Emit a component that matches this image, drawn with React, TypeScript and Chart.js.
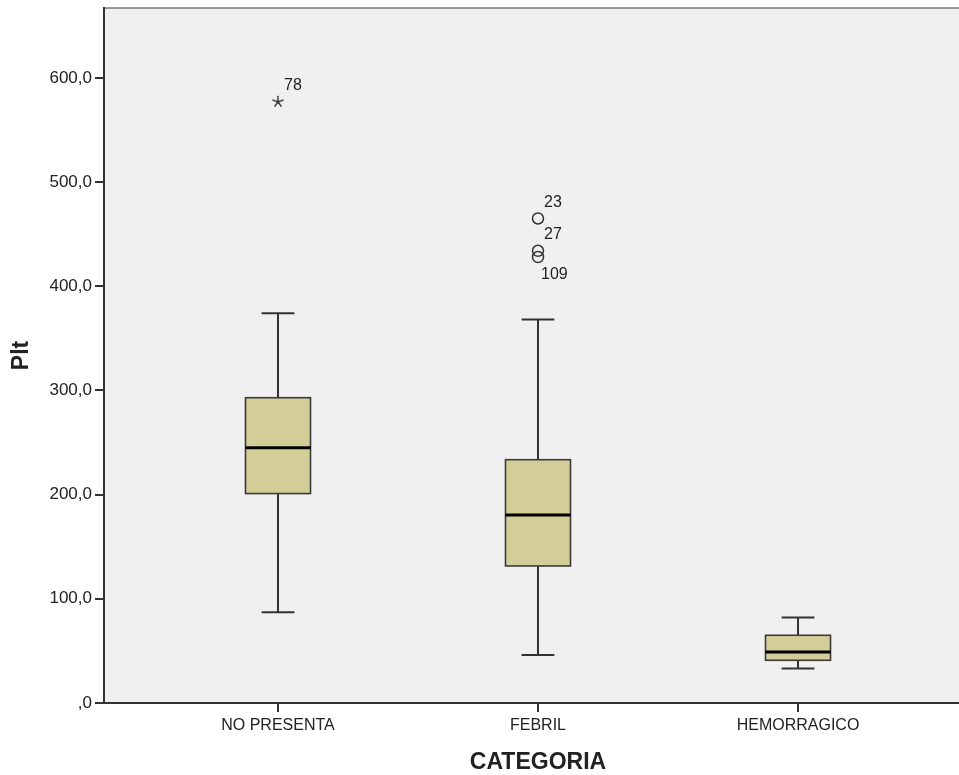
import React, { useEffect, useRef } from "react";
import { Chart, registerables } from "chart.js";

Chart.register(...registerables);

const categories = ["NO PRESENTA", "FEBRIL", "HEMORRAGICO"];
const whiskerLow = [87, 46, 33];
const q1 = [201, 131.5, 41];
const median = [245, 180.5, 49];
const q3 = [293, 233.5, 65];
const whiskerHigh = [374, 368, 82];

// outliers: category index (1-based), value, case label
const extremeCat = [1];
const extremeVal = [577];
const extremeLab = ["78"];
const outlierCat = [2, 2, 2];
const outlierVal = [465, 434, 428];
const outlierLab = ["23", "27", "109"];
const outlierLabelSide = ["above", "above", "below"];
const extremeLabelSide = ["above"];

const yTicks = [0, 100, 200, 300, 400, 500, 600];
const xTitle = "CATEGORIA";
const yTitle = "Plt";

const FONT = "'Liberation Sans', Arial, sans-serif";
const DARK = "#333333";

function makeStar(): HTMLCanvasElement {
  const c = document.createElement("canvas");
  c.width = 14;
  c.height = 14;
  const g = c.getContext("2d")!;
  g.strokeStyle = DARK;
  g.lineWidth = 1.4;
  g.beginPath();
  for (let i = 0; i < 5; i++) {
    const a = -Math.PI / 2 + (i * 2 * Math.PI) / 5;
    g.moveTo(7, 7);
    g.lineTo(7 + 6 * Math.cos(a), 7 + 6 * Math.sin(a));
  }
  g.stroke();
  return c;
}

const zeroPad = (s: any) => {
  s.paddingTop = 0;
  s.paddingBottom = 0;
  s.paddingLeft = 0;
  s.paddingRight = 0;
};

const boxPlugin = {
  id: "boxPlugin",
  beforeDraw(chart: any) {
    const { ctx, chartArea } = chart;
    ctx.save();
    ctx.fillStyle = "#F0F0F0";
    ctx.fillRect(chartArea.left, chartArea.top, chartArea.right - chartArea.left, chartArea.bottom - chartArea.top);
    ctx.strokeStyle = "#777777";
    ctx.lineWidth = 1.5;
    ctx.beginPath();
    ctx.moveTo(chartArea.left, chartArea.top);
    ctx.lineTo(chartArea.right, chartArea.top);
    ctx.stroke();
    ctx.restore();
  },
  beforeDatasetsDraw(chart: any) {
    const { ctx } = chart;
    const xs = chart.scales.x;
    const ys = chart.scales.y;
    const boxHalf = 0.125;
    const capHalf = 0.063;
    ctx.save();
    categories.forEach((_, i) => {
      const cx = i + 1;
      const xc = xs.getPixelForValue(cx);
      const xl = xs.getPixelForValue(cx - boxHalf);
      const xr = xs.getPixelForValue(cx + boxHalf);
      const cl = xs.getPixelForValue(cx - capHalf);
      const cr = xs.getPixelForValue(cx + capHalf);
      const yLo = ys.getPixelForValue(whiskerLow[i]);
      const yQ1 = ys.getPixelForValue(q1[i]);
      const yMed = ys.getPixelForValue(median[i]);
      const yQ3 = ys.getPixelForValue(q3[i]);
      const yHi = ys.getPixelForValue(whiskerHigh[i]);
      ctx.strokeStyle = DARK;
      ctx.lineWidth = 2;
      ctx.beginPath();
      ctx.moveTo(xc, yQ3);
      ctx.lineTo(xc, yHi);
      ctx.moveTo(cl, yHi);
      ctx.lineTo(cr, yHi);
      ctx.moveTo(xc, yQ1);
      ctx.lineTo(xc, yLo);
      ctx.moveTo(cl, yLo);
      ctx.lineTo(cr, yLo);
      ctx.stroke();
      ctx.fillStyle = "#D3CE97";
      ctx.fillRect(xl, yQ3, xr - xl, yQ1 - yQ3);
      ctx.strokeStyle = "#3a3a3a";
      ctx.lineWidth = 1.6;
      ctx.strokeRect(xl, yQ3, xr - xl, yQ1 - yQ3);
      ctx.strokeStyle = "#000000";
      ctx.lineWidth = 3;
      ctx.beginPath();
      ctx.moveTo(xl, yMed);
      ctx.lineTo(xr, yMed);
      ctx.stroke();
    });
    ctx.restore();
  },
  afterDatasetsDraw(chart: any) {
    const { ctx } = chart;
    const xs = chart.scales.x;
    const ys = chart.scales.y;
    ctx.save();
    ctx.fillStyle = "#222222";
    ctx.font = `16px ${FONT}`;
    ctx.textAlign = "left";
    ctx.textBaseline = "middle";
    const drawLab = (c: number, v: number, lab: string, side: string) => {
      const px = xs.getPixelForValue(c);
      const py = ys.getPixelForValue(v);
      if (side === "above") ctx.fillText(lab, px + 6, py - 16);
      else ctx.fillText(lab, px + 3, py + 18);
    };
    extremeCat.forEach((c, i) => drawLab(c, extremeVal[i], extremeLab[i], extremeLabelSide[i]));
    outlierCat.forEach((c, i) => drawLab(c, outlierVal[i], outlierLab[i], outlierLabelSide[i]));
    ctx.restore();
  },
  afterDraw(chart: any) {
    const { ctx } = chart;
    const xs = chart.scales.x;
    const ys = chart.scales.y;
    ctx.save();
    ctx.fillStyle = "#222222";
    ctx.font = `bold 23px ${FONT}`;
    ctx.textAlign = "center";
    ctx.textBaseline = "middle";
    ctx.fillText(xTitle, xs.getPixelForValue(2), 763);
    ctx.translate(22, (ys.top + ys.bottom) / 2);
    ctx.rotate(-Math.PI / 2);
    ctx.fillText(yTitle, 0, 0);
    ctx.restore();
  },
};

export default function App() {
  const ref = useRef<HTMLCanvasElement>(null);
  useEffect(() => {
    if (!ref.current) return;
    const star = makeStar();
    const chart = new Chart(ref.current, {
      type: "scatter",
      data: {
        datasets: [
          {
            data: outlierCat.map((c, i) => ({ x: c, y: outlierVal[i] })),
            pointStyle: "circle",
            pointRadius: 5.5,
            pointBorderWidth: 1.5,
            pointBorderColor: DARK,
            pointBackgroundColor: "rgba(0,0,0,0)",
          },
          {
            data: extremeCat.map((c, i) => ({ x: c, y: extremeVal[i] })),
            pointStyle: star,
            pointRadius: 7,
          },
        ],
      },
      options: {
        animation: false,
        responsive: false,
        layout: { autoPadding: false, padding: { top: 8, right: 0, left: 0, bottom: 0 } },
        plugins: { legend: { display: false }, tooltip: { enabled: false } },
        scales: {
          x: {
            type: "linear",
            min: 0.3308,
            max: 3.6192,
            afterBuildTicks: (s: any) => {
              s.ticks = categories.map((_, i) => ({ value: i + 1 }));
            },
            afterFit: (s: any) => {
              s.height = 72;
              zeroPad(s);
            },
            grid: { display: true, drawOnChartArea: false, drawTicks: true, tickLength: 9, color: DARK, lineWidth: 2 },
            border: { display: true, color: DARK, width: 2 },
            ticks: {
              callback: (v: any) => categories[Number(v) - 1] ?? "",
              font: { family: FONT, size: 16 },
              color: "#222222",
              padding: 4,
              maxRotation: 0,
              autoSkip: false,
            },
          },
          y: {
            min: 0,
            max: 667,
            afterBuildTicks: (s: any) => {
              s.ticks = yTicks.map((v) => ({ value: v }));
            },
            afterFit: (s: any) => {
              s.width = 104;
              zeroPad(s);
            },
            grid: { display: true, drawOnChartArea: false, drawTicks: true, tickLength: 9, color: DARK, lineWidth: 2 },
            border: { display: true, color: DARK, width: 2 },
            ticks: {
              callback: (v: any) => (Number(v) === 0 ? ",0" : Number(v).toFixed(1).replace(".", ",")),
              font: { family: FONT, size: 17 },
              color: "#222222",
              padding: 3,
            },
          },
        },
      },
      plugins: [boxPlugin],
    });
    return () => chart.destroy();
  }, []);
  return (
    <div style={{ position: "absolute", left: 0, top: 0, width: 959, height: 775, background: "#ffffff" }}>
      <canvas ref={ref} width={959} height={775} />
    </div>
  );
}
